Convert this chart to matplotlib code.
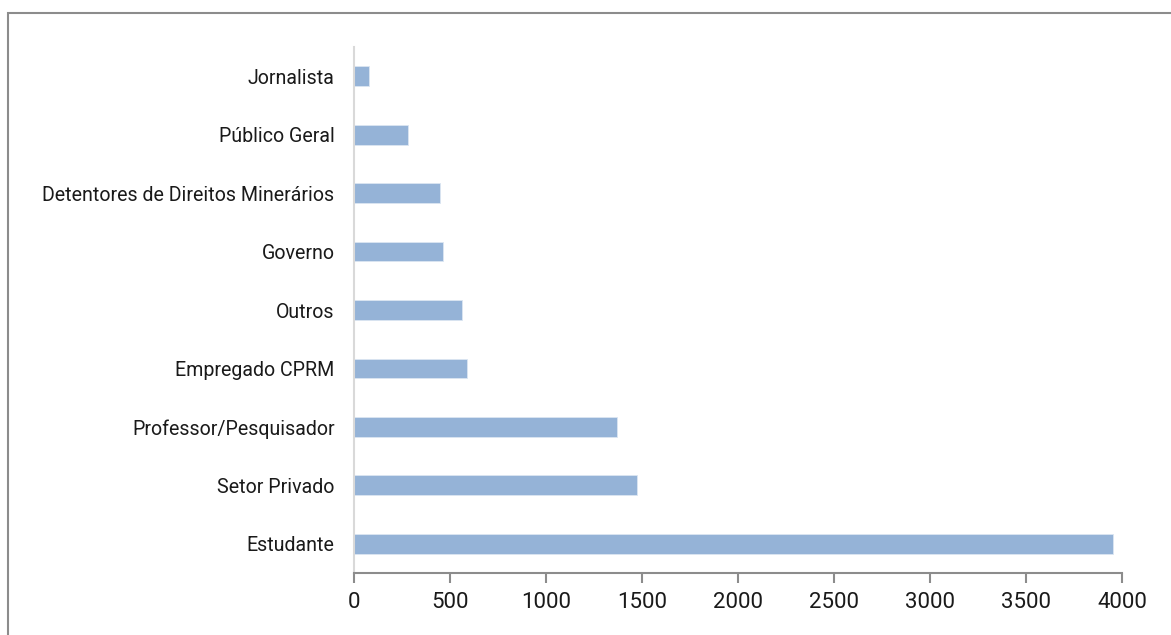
import matplotlib.pyplot as plt
from matplotlib.patches import Rectangle

categorias = ['Estudante', 'Setor Privado', 'Professor/Pesquisador', 'Empregado CPRM',
              'Outros', 'Governo', 'Detentores de Direitos Minerários', 'Público Geral',
              'Jornalista']
usuarios = [3951, 1473, 1369, 591, 565, 466, 450, 280, 77]
ticks_x = [0, 500, 1000, 1500, 2000, 2500, 3000, 3500, 4000]

plt.rcParams['font.family'] = ['Roboto', 'DejaVu Sans']

fig = plt.figure(figsize=(11.71, 6.35), dpi=100)
ax = fig.add_axes([354 / 1171, 62 / 635, 768 / 1171, 526 / 635])

# moldura cinza em volta do gráfico
fig.patches.append(Rectangle((8 / 1171, -0.1), 1.2, (635 - 13) / 635 + 0.1,
                             transform=fig.transFigure, fill=False,
                             edgecolor='#8c8c8c', linewidth=1.5))

ax.barh(range(len(categorias)), usuarios, height=0.34, color='#95b3d7',
        edgecolor='#dce6f2', linewidth=0.6)

ax.set_xlim(0, 4000)
ax.set_ylim(-0.5, len(categorias) - 0.5)
ax.set_xticks(ticks_x)
ax.set_yticks(range(len(categorias)))
ax.set_yticklabels(categorias)

for s in ['top', 'right']:
    ax.spines[s].set_visible(False)
ax.spines['left'].set_color('#d9d9d9')
ax.spines['left'].set_linewidth(1.5)
ax.spines['bottom'].set_color('#8c8c8c')
ax.spines['bottom'].set_linewidth(1.5)

ax.tick_params(axis='y', length=0, pad=14, labelsize=14.1, labelcolor='#1a1a1a')
ax.tick_params(axis='x', length=7, width=1.5, color='#8c8c8c', pad=7,
               labelsize=16, labelcolor='#1a1a1a')

fig.savefig('out.png', dpi=100)
